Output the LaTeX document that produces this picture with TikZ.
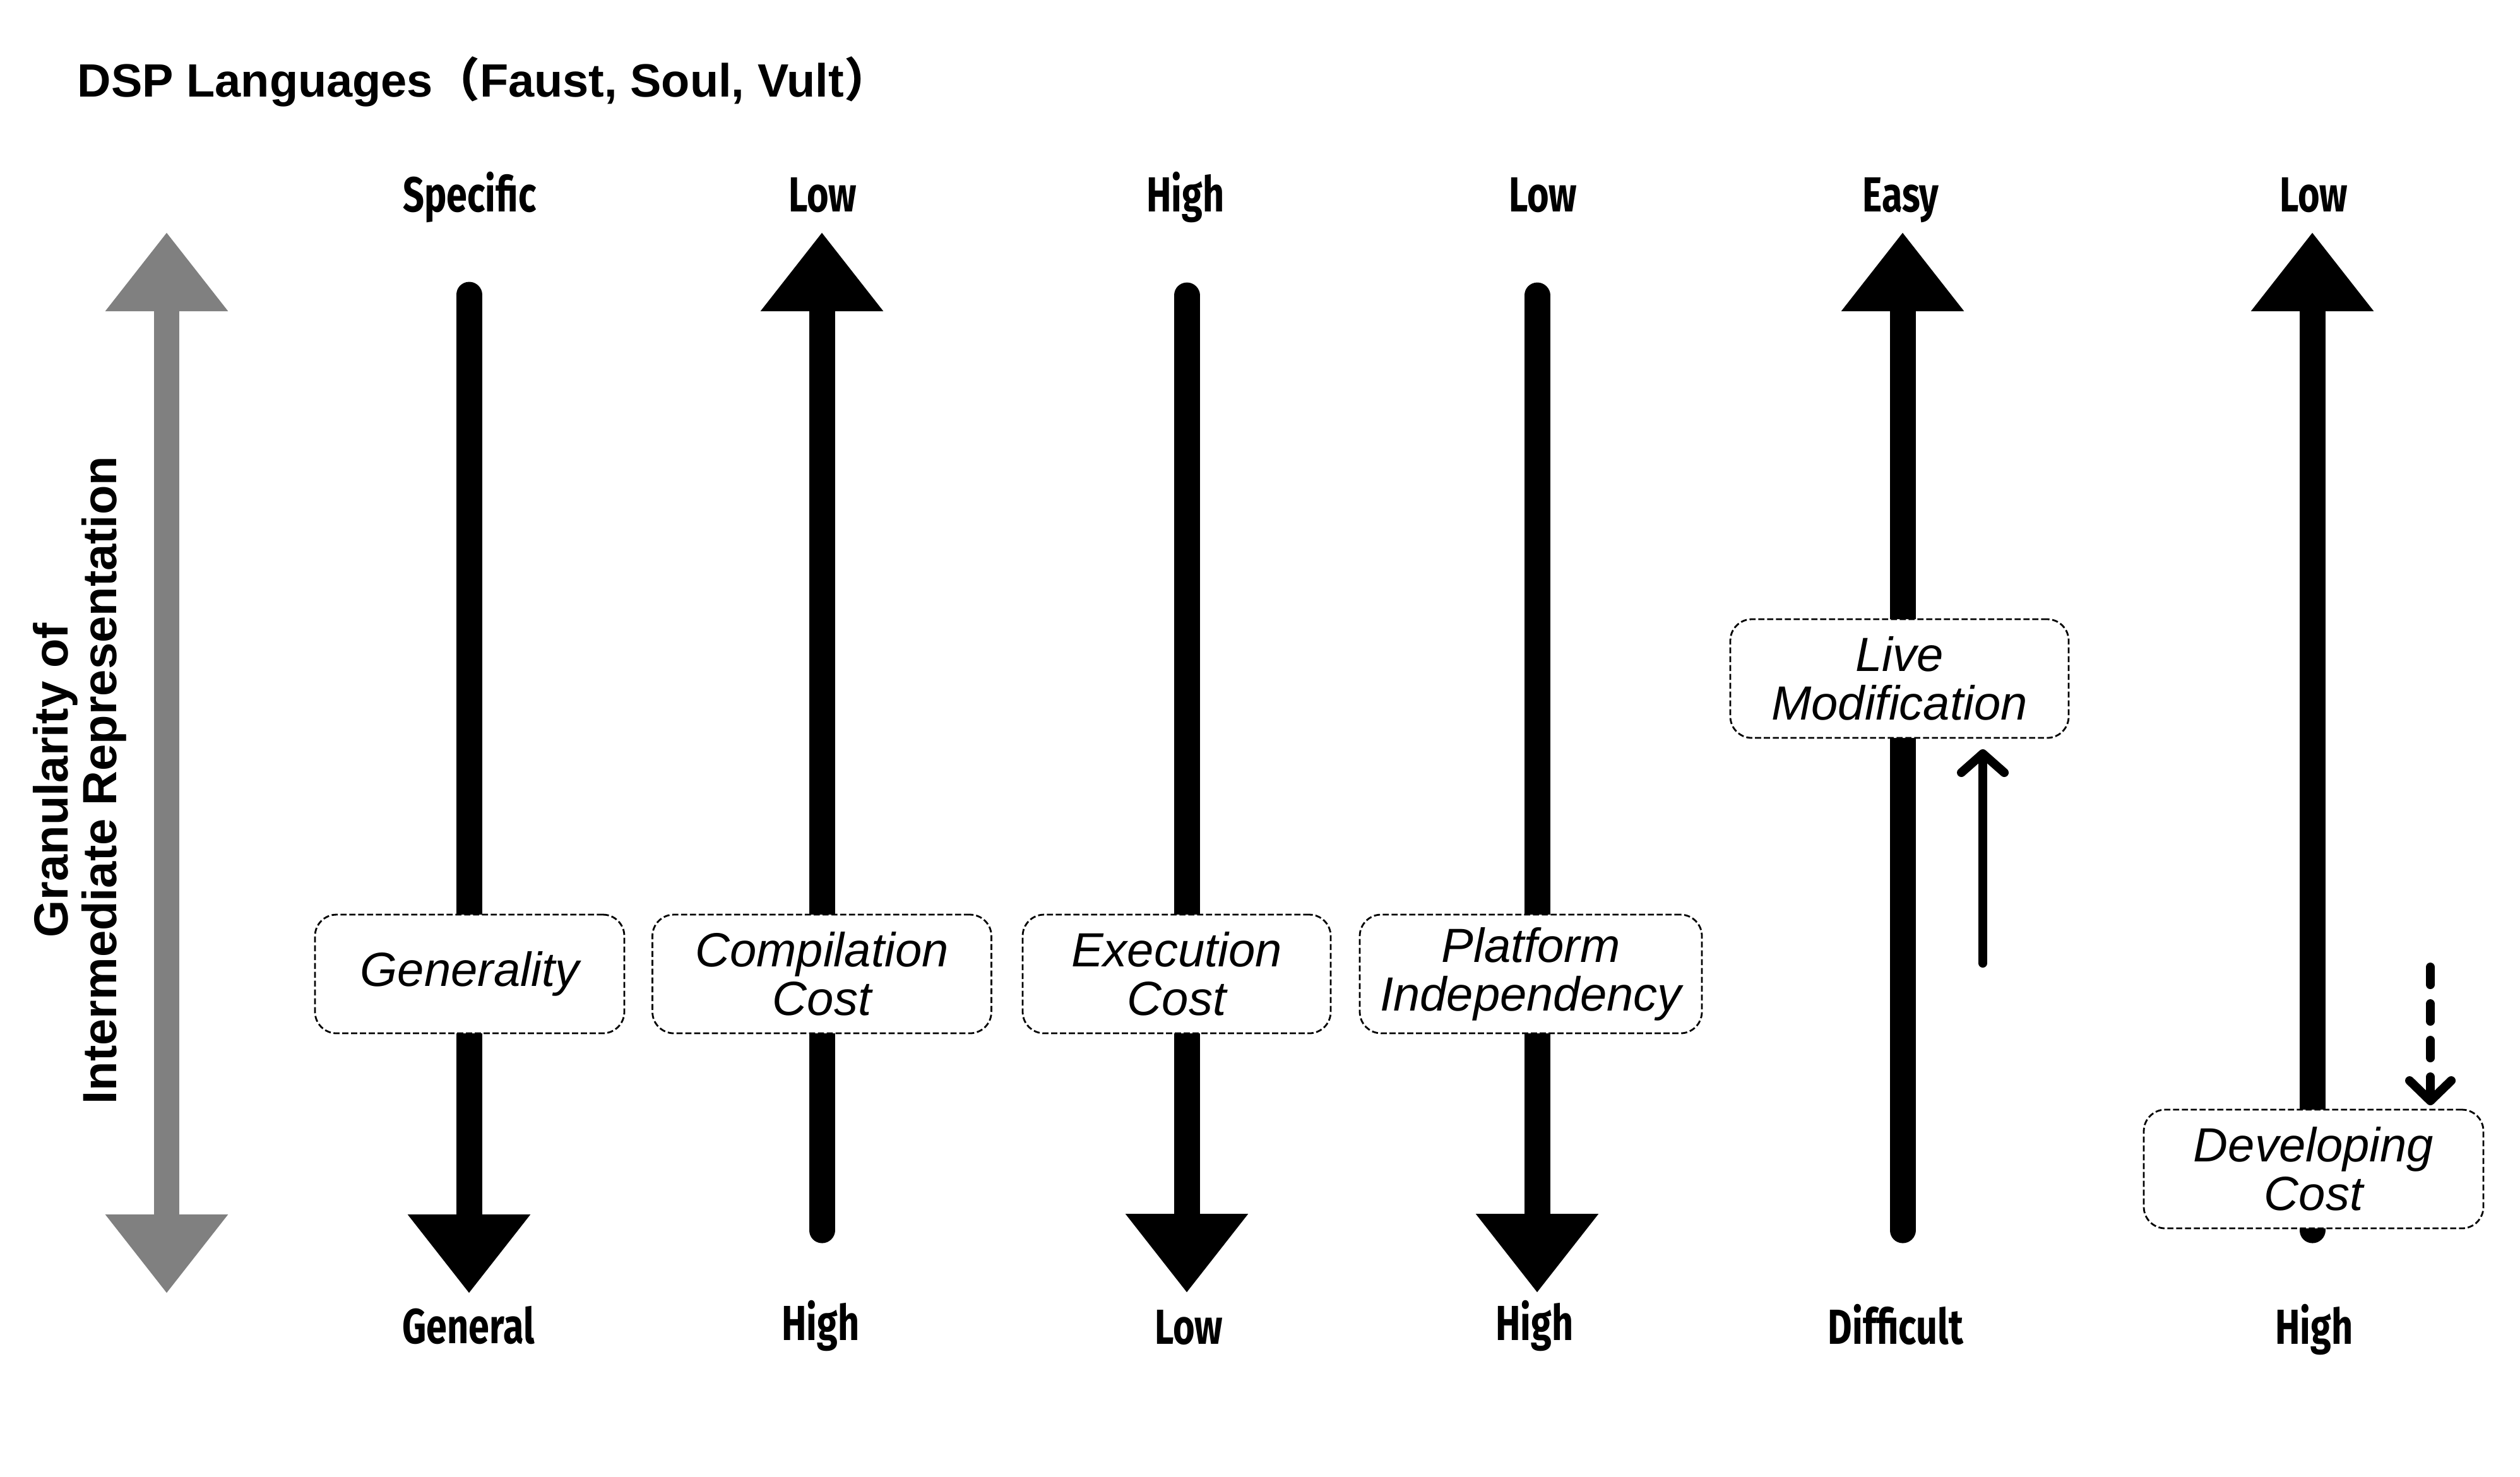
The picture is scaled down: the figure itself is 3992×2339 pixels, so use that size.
\documentclass[tikz,border=0pt]{standalone}
\usepackage{fontspec}
\setmainfont{Liberation Sans}
\newfontfamily\cjk{Noto Sans CJK SC}
\newfontfamily\condfont{Fira Sans}[FakeStretch=0.76]
\usetikzlibrary{arrows.meta}
\definecolor{axisgray}{gray}{0.5}
\begin{document}
\begin{tikzpicture}[x=0.25pt,y=-0.25pt,
  lab/.style={font=\condfont\bfseries\fontsize{19.5}{20}\selectfont, anchor=base, inner sep=0pt},
  bigarrow/.style={line width=10.25pt, line cap=round, -{Triangle[length=31.25pt,width=46.5pt]}},
  box/.style={draw, line width=0.7pt, dash pattern=on 2.4pt off 1.1pt, rounded corners=8.5pt,
    fill=white, align=center, inner sep=0pt, minimum height=47pt,
    font=\itshape\fontsize{19}{19.25}\selectfont},
  hint/.style={line width=3.5pt, line cap=round, -{Straight Barb[length=7.5pt,width=17pt,line cap=round,line join=round]}},
  dhint/.style={line width=3.5pt, line cap=round, dash pattern=on 7pt off 7.5pt, -{Straight Barb[length=8pt,width=16.5pt,line cap=round,line join=round]}}
]
\fill[white] (0,0) rectangle (3992,2339);
\useasboundingbox (0,0) rectangle (3992,2339);

% title
\node[anchor=base west, inner sep=0pt, font=\bfseries\fontsize{18.5}{20}\selectfont] (title) at (122,153)
  {DSP Languages{\cjk （}Faust, Soul, Vult{\cjk ）}};

% axis label
\node[rotate=90, align=center, inner sep=0pt, font=\bfseries\fontsize{19}{19.25}\selectfont] (axis) at (126,1236)
  {Granularity of\\Intermediate Representation};

% gray double arrow
\coordinate (gtop) at (264,368);
\coordinate (gbot) at (264,2049);
\draw[axisgray, line width=10pt, {Triangle[length=31.25pt,width=46.5pt]}-{Triangle[length=31.25pt,width=46.5pt]}] (gtop) -- (gbot);

% top labels
\node[lab] (t1) at (744,335) {Specific};
\node[lab] (t2) at (1303,335) {Low};
\node[lab] (t3) at (1878,335) {High};
\node[lab] (t4) at (2444,335) {Low};
\node[lab] (t5) at (3011,335) {Easy};
\node[lab] (t6) at (3665,335) {Low};

% bottom labels
\node[lab] (b1) at (742,2128) {General};
\node[lab] (b2) at (1300,2123) {High};
\node[lab] (b3) at (1883,2129) {Low};
\node[lab] (b4) at (2431,2123) {High};
\node[lab] (b5) at (3003,2129) {Difficult};
\node[lab] (b6) at (3666,2129) {High};

% axis arrows
\coordinate (a1s) at (743,467);  \coordinate (a1e) at (743,2049);
\coordinate (a2s) at (1302,1949); \coordinate (a2e) at (1302,368);
\coordinate (a3s) at (1880,468); \coordinate (a3e) at (1880,2048);
\coordinate (a4s) at (2435,468); \coordinate (a4e) at (2435,2048);
\coordinate (a5s) at (3014,1949); \coordinate (a5e) at (3014,368);
\coordinate (a6s) at (3663,1949); \coordinate (a6e) at (3663,368);
\draw[bigarrow] (a1s) -- (a1e);
\draw[bigarrow] (a2s) -- (a2e);
\draw[bigarrow] (a3s) -- (a3e);
\draw[bigarrow] (a4s) -- (a4e);
\draw[bigarrow] (a5s) -- (a5e);
\draw[bigarrow] (a6s) -- (a6e);

% boxes
\node[box, minimum width=122.5pt] (gen) at (744,1543) {Generality};
\node[box, minimum width=134.25pt] (comp) at (1302,1543) {Compilation\\Cost};
\node[box, minimum width=122pt] (exec) at (1864,1543) {Execution\\Cost};
\node[box, minimum width=135.5pt] (plat) at (2425,1543) {Platform\\Independency};
\node[box, minimum width=134pt] (live) at (3009,1075) {Live\\Modification};
\node[box, minimum width=134.5pt] (dev) at (3665,1852) {Developing\\Cost};

% hint arrows
\coordinate (h1s) at (3141,1526); \coordinate (h1e) at (3141,1187);
\draw[hint] (h1s) -- (h1e);
\coordinate (h2s) at (3850,1532); \coordinate (h2e) at (3850,1751);
\draw[dhint] (h2s) -- (h2e);
\end{tikzpicture}
\end{document}
